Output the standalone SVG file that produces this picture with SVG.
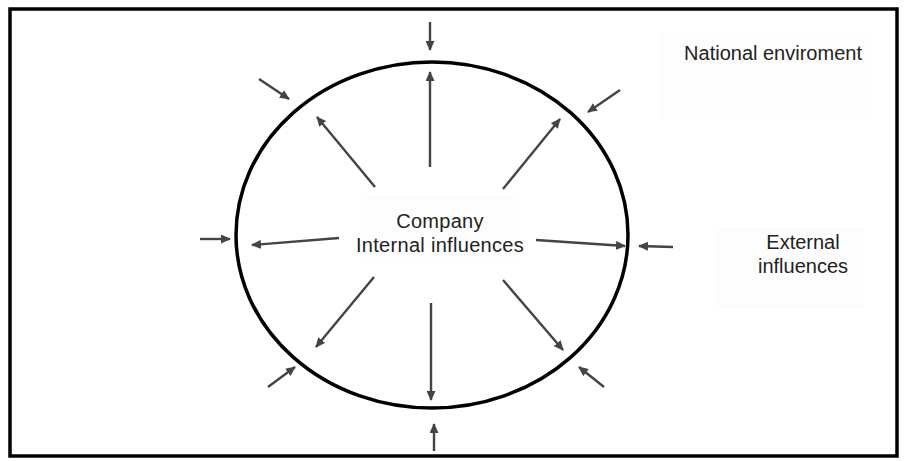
<svg xmlns="http://www.w3.org/2000/svg" width="904" height="461" viewBox="0 0 904 461">
<style>
  .lbl{font-family:"Liberation Sans",Arial,sans-serif;font-size:20px;fill:#222;text-anchor:middle}
  .ar{stroke:#444;stroke-width:2.4;fill:none;marker-end:url(#ah)}
  .bg{fill:#fdfdfd;stroke:none}
</style>
<defs>
  <marker id="ah" markerUnits="userSpaceOnUse" markerWidth="10" markerHeight="9" refX="9" refY="4.5" orient="auto">
    <path d="M0,0 L10,4.5 L0,9 z" fill="#444"/>
  </marker>
</defs>
<rect width="904" height="461" fill="#fff"/>
<rect id="frame" x="10" y="9" width="887" height="447" fill="none" stroke="#000" stroke-width="3.5"/>
<g id="company">
  <ellipse cx="432" cy="235" rx="196" ry="173" fill="none" stroke="#000" stroke-width="3.5"/>
  <rect class="bg" x="362" y="195" width="156" height="70"/>
  <text class="lbl" x="440" y="228" letter-spacing="0.3">Company</text>
  <text class="lbl" x="440" y="252" letter-spacing="0.3">Internal influences</text>
</g>
<g id="national">
  <rect class="bg" x="660" y="33" width="213" height="87"/>
  <text class="lbl" x="773" y="60" font-size="20.5">National enviroment</text>
</g>
<g id="external">
  <rect class="bg" x="715" y="228" width="148" height="80"/>
  <text class="lbl" x="803" y="249">External</text>
  <text class="lbl" x="803" y="273">influences</text>
</g>
<g id="connectors">
  <line class="ar" x1="430" y1="167" x2="430" y2="72"/>
  <line class="ar" x1="375" y1="187" x2="317" y2="117"/>
  <line class="ar" x1="503" y1="189" x2="560" y2="119"/>
  <line class="ar" x1="339" y1="238" x2="252" y2="245"/>
  <line class="ar" x1="536" y1="240" x2="625" y2="246"/>
  <line class="ar" x1="374" y1="277" x2="316" y2="347"/>
  <line class="ar" x1="431" y1="303" x2="431" y2="400"/>
  <line class="ar" x1="503" y1="280" x2="563" y2="350"/>
  <line class="ar" x1="430" y1="22" x2="430" y2="50"/>
  <line class="ar" x1="259" y1="79" x2="289" y2="99"/>
  <line class="ar" x1="620" y1="90" x2="588" y2="112"/>
  <line class="ar" x1="200" y1="239" x2="230" y2="239"/>
  <line class="ar" x1="673" y1="247" x2="639" y2="246"/>
  <line class="ar" x1="268" y1="387" x2="295" y2="367"/>
  <line class="ar" x1="434" y1="451" x2="434" y2="424"/>
  <line class="ar" x1="604" y1="387" x2="579" y2="367"/>
</g>
</svg>
